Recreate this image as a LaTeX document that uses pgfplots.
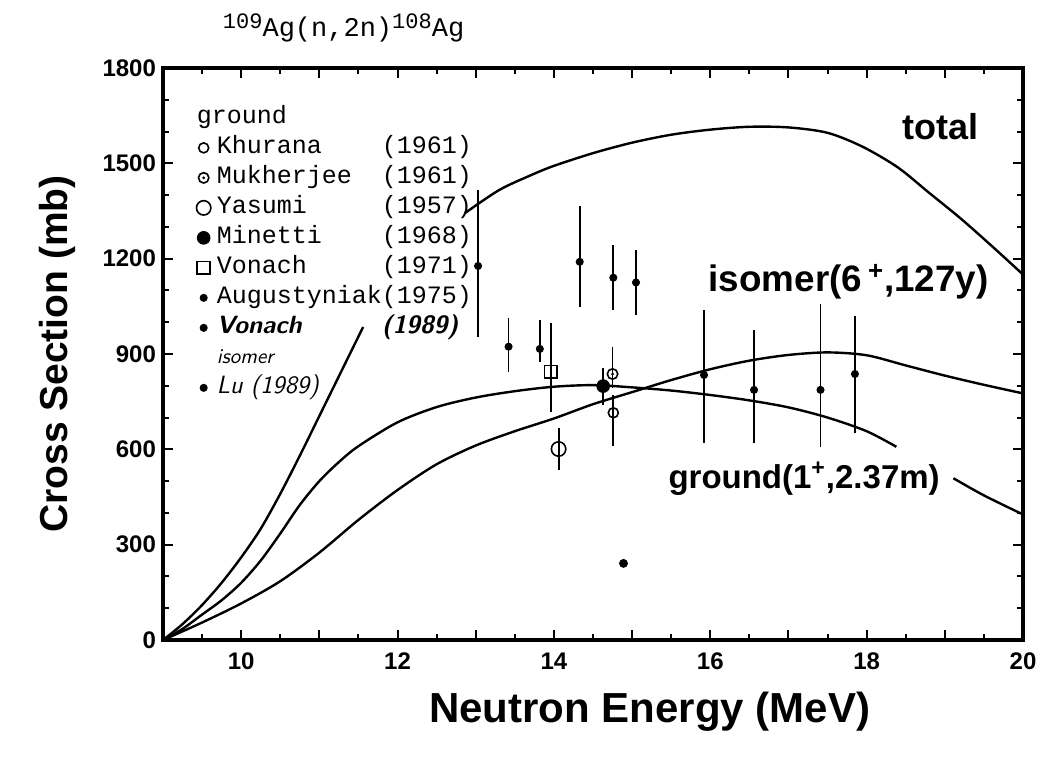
\documentclass[border=0pt]{standalone}
\usepackage{pgfplots}
\pgfplotsset{compat=1.18}
\usepackage{fontspec}
\setmainfont{Liberation Sans}
\setmonofont{Liberation Mono}

% circle with a dot in it (Mukherjee)
\pgfdeclareplotmark{odot}{%
  \pgfpathcircle{\pgfpointorigin}{\pgfplotmarksize}\pgfusepathqstroke
  \pgfpathcircle{\pgfpointorigin}{0.3\pgfplotmarksize}\pgfusepathqfill}

\newcommand\yr[2]{\makebox[6.6em][l]{#1}#2}
\newcommand\hand{\sffamily\itshape}

\begin{document}
\begin{tikzpicture}
\begin{axis}[name=ax, scale only axis, width=430pt, height=286pt,
  xmin=9, xmax=20, ymin=0, ymax=1800,
  xtick={9,...,20}, xticklabels={,10,,12,,14,,16,,18,,20},
  minor x tick num=1,
  ytick={0,300,...,1800}, minor y tick num=2,
  major tick length=5pt, minor tick length=3pt,
  tick style={line width=1pt, black},
  axis line style={line width=1.6pt},
  /pgf/number format/assume math mode=true,
  /pgf/number format/1000 sep={},
  ticklabel style={font=\bfseries\fontsize{12}{12}\selectfont},
  xticklabel style={yshift=-3pt},
  xlabel={Neutron Energy (MeV)}, ylabel={Cross Section (mb)},
  xlabel style={font=\bfseries\fontsize{21}{21}\selectfont,
    at={(axis description cs:0.566,0)}, anchor=center, yshift=-36pt},
  ylabel style={font=\bfseries\fontsize{19.5}{19.5}\selectfont,
    at={(axis description cs:-0.123,0.5)}, anchor=center},
  title={\raisebox{0.6ex}{\fontsize{11}{11}\selectfont 109}Ag(n,2n)\raisebox{0.6ex}{\fontsize{11}{11}\selectfont 108}Ag},
  title style={font=\ttfamily\fontsize{13.5}{13.5}\selectfont,
    at={(axis description cs:0.21,1)}, anchor=center, yshift=14pt},
  legend style={draw=none, fill=none, at={(axis description cs:0.02,0.945)},
    anchor=north west, row sep=1pt, column sep=2pt,
    nodes={inner sep=1pt, text height=9pt, text depth=3pt},
    font=\ttfamily\fontsize{12.5}{13}\selectfont},
  legend cell align=left,
  error bars/error bar style={line width=0.9pt, black},
  error bars/error mark=none,
  every axis plot/.append style={black},
]

% calculated curves
\addplot[line width=1.2pt, smooth, forget plot] coordinates {
(9,0) (9.25,50) (9.5,110) (9.75,180) (10,260) (10.25,350) (10.5,460)
(10.75,580) (11,705) (11.25,830) (11.56,985)};
\addplot[line width=1.2pt, smooth, forget plot] coordinates {
(12.86,1343) (13.3,1416) (13.7,1462) (14,1492) (14.5,1532) (15,1565)
(15.5,1590) (16,1606) (16.5,1615) (17,1613) (17.5,1596) (17.95,1552)
(18.4,1487) (18.8,1407) (19.2,1327) (19.6,1240) (20,1150)};
\addplot[line width=1.2pt, smooth, forget plot] coordinates {
(9,0) (9.25,35) (9.5,80) (9.75,125) (10,180) (10.25,250) (10.5,335)
(10.75,425) (11,500) (11.25,560) (11.5,610) (12,685) (12.5,733) (13,763)
(13.5,783) (14,797) (14.5,802) (15,795) (15.5,785) (16,771) (16.5,754)
(17,732) (17.5,700) (18,657) (18.38,608)};
\addplot[line width=1.2pt, smooth, forget plot] coordinates {
(19.11,509) (19.5,455) (20,395)};
\addplot[line width=1.2pt, smooth, forget plot] coordinates {
(9,0) (9.5,55) (10,115) (10.5,185) (11,275) (11.5,378) (12,472)
(12.5,553) (13,612) (13.5,657) (14,697) (14.5,742) (15,780) (15.5,818)
(16,852) (16.5,879) (17,897) (17.5,905) (18,896) (18.5,864) (19,832)
(19.5,803) (20,776)};

% measurements
\addlegendimage{empty legend}
\addlegendentry{\hspace*{-10pt}ground}

\addplot[only marks, mark=o, mark size=2.5pt, line width=0.8pt,
  error bars/.cd, y dir=both, y explicit] coordinates {
(14.76,715) += (0,55) -= (0,105)};
\addlegendentry{\yr{Khurana}{(1961)}}

\addplot[only marks, mark=odot, mark size=2.6pt, line width=0.8pt, fill=black,
  error bars/.cd, y dir=both, y explicit] coordinates {
(14.75,837) += (0,86) -= (0,44)};
\addlegendentry{\yr{Mukherjee}{(1961)}}

\addplot[only marks, mark=o, mark size=3.6pt, line width=0.8pt,
  error bars/.cd, y dir=both, y explicit] coordinates {
(14.06,601) +- (0,65)};
\addlegendentry{\yr{Yasumi}{(1957)}}

\addplot[only marks, mark=*, mark size=3.2pt,
  error bars/.cd, y dir=both, y explicit] coordinates {
(14.63,799) +- (0,58)};
\addlegendentry{\yr{Minetti}{(1968)}}

\addplot[only marks, mark=square, mark size=3.2pt, line width=0.8pt,
  error bars/.cd, y dir=both, y explicit] coordinates {
(13.96,844) += (0,153) -= (0,126)};
\addlegendentry{\yr{Vonach}{(1971)}}

\addplot[only marks, mark=*, mark size=1.8pt,
  error bars/.cd, y dir=both, y explicit] coordinates {
(13.03,1177) += (0,239) -= (0,223)
(14.33,1190) += (0,175) -= (0,141)
(14.76,1140) += (0,103) -= (0,102)
(15.05,1125) += (0,102) -= (0,102)};
\addlegendentry{\yr{Augustyniak}{(1975)}}

\addplot[only marks, mark=*, mark size=1.8pt,
  error bars/.cd, y dir=both, y explicit] coordinates {
(13.42,923) += (0,89) -= (0,79)
(13.82,916) += (0,91) -= (0,40)};
\addlegendentry{\yr{\hand\bfseries Vonach}{\hand\bfseries (1989)}}

\addlegendimage{empty legend}
\addlegendentry{\hand\fontsize{10.5}{12}\selectfont isomer}

\addplot[only marks, mark=*, mark size=1.8pt,
  error bars/.cd, y dir=both, y explicit] coordinates {
(15.92,834) += (0,204) -= (0,215)
(16.56,787) += (0,188) -= (0,168)
(17.41,787) += (0,270) -= (0,179)
(17.85,837) += (0,182) -= (0,186)};
\addlegendentry{\hand Lu (1989)}

\addplot[only marks, mark=*, mark size=2pt, forget plot] coordinates {
(14.89,241)};

\node[font=\bfseries\fontsize{18}{18}\selectfont] at (axis cs:18.95,1615) {total};
\node[font=\bfseries\fontsize{18.4}{18.4}\selectfont] at (axis cs:17.77,1127)
  {isomer(6\,\textsuperscript{+},127y)};
\node[font=\bfseries\fontsize{16.5}{16.5}\selectfont] at (axis cs:17.2,508)
  {ground(1\textsuperscript{+},2.37m)};
\end{axis}
\pgfresetboundingbox
\path[use as bounding box] ([shift={(-81.5pt,-64.5pt)}]ax.south west)
  rectangle ([shift={(13pt,34pt)}]ax.north east);
\end{tikzpicture}
\end{document}
